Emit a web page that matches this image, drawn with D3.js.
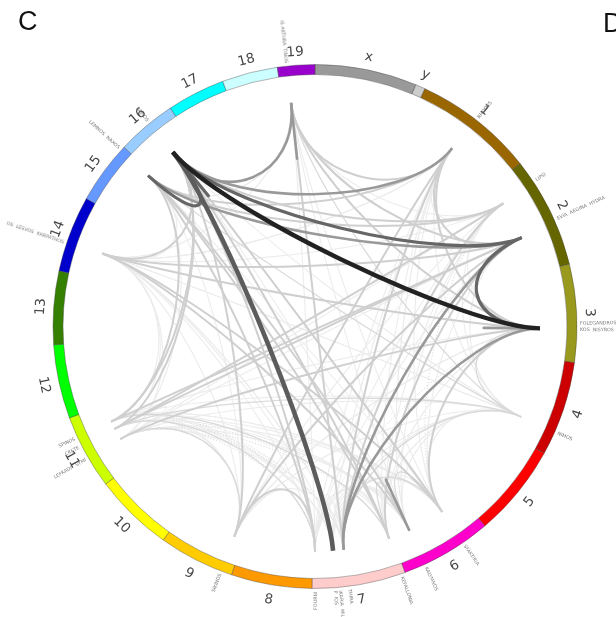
<!DOCTYPE html>
<html>
<head>
<meta charset="utf-8">
<style>
html, body { margin: 0; padding: 0; background: #fff; }
svg { display: block; }
text { font-family: "DejaVu Sans", sans-serif; }
</style>
<script src="https://cdn.jsdelivr.net/npm/d3@7"></script>
</head>
<body>
<svg id="chart" width="616" height="617"></svg>
<script>
// ---- Chart data ----
const chromNames = ["x", "y", "1", "2", "3", "4", "5", "6", "7", "8", "9", "10",
                    "11", "12", "13", "14", "15", "16", "17", "18", "19"];
const chromLengths = [167, 16, 197, 182, 160, 155, 152, 150, 153, 132, 124, 130,
                      122, 121, 120, 125, 103, 98, 95, 91, 61];
const chromColors = ["#999999", "#cccccc", "#996600", "#666600", "#99991e", "#cc0000",
                     "#ff0000", "#ff00cc", "#ffcccc", "#ff9900", "#ffcc00", "#ffff00",
                     "#ccff00", "#00ff00", "#358000", "#0000cc", "#6699ff", "#99ccff",
                     "#00ffff", "#ccffff", "#9900cc"];

// where the links meet: one letter, chromosome, position on it
const hubKeys = "ABCDEFGHIJKLMNOPQRS".split("");
const hubChroms = ["16", "15", "19", "1", "2", "2", "3", "4", "6", "6", "7", "7", "7", "7", "9", "11", "11", "11", "14"];
const hubPositions = [56, 95, 16, 94, 39, 112, 105, 116, 44, 115, 6, 94, 114, 148, 18, 51, 73, 88, 49];

const labelTexts = ["IS AKTHRA  TINOS", "RHODES", "LIPSI", "EVIA  AEGINA  HYDRA", "FOLEGANDROS", "KOS  NISYROS",
                    "NIMOS", "SFAKTIRIA", "KALYMNOS", "KEFALLONIA", "THIRA", "IKARIA  MIL", "P  IOS", "FOURNI",
                    "SIKINOS", "LEFKADA  SYMI", "CRETE", "SPINOS", "OS  LESVOS  KARPATHOS", "LEMNOS  NAXOS", "SAMOS"];
const labelChroms = ["19", "1", "2", "2", "3", "3", "4", "6", "6", "7", "7", "7", "7", "7", "9", "11", "11", "11", "14", "15", "16"];
const labelPositions = [16, 97, 36, 106, 96, 106, 116, 44, 115, 6, 92, 107, 115, 148, 18, 51, 73, 88, 47, 97, 57];

// links by strength, each a pair of hub letters
const dottedLinks = ["PK", "QK", "RK", "PL", "QL", "RL", "PN", "QN", "RN", "SG", "SH", "GN", "HL", "HK", "EI", "JD", "PJ", "RI"];
const faintLinks = ["HP", "HR", "HS", "HA", "HD", "HE", "HF", "HI", "HJ", "HK", "HM", "HN", "HO",
                    "PQ", "QR", "PS", "QS", "RS", "QO", "RO", "PM", "QM", "RM", "PJ", "QJ", "RJ", "PI", "QI", "RI",
                    "IK", "IM", "IN", "JL", "JM", "JN", "KL", "KM", "KN", "LN", "ED", "EG", "CE", "CS",
                    "CB", "DS", "EJ", "EO", "DI", "DJ", "DK", "CI", "CJ", "BC", "SO", "SN", "SL", "GO", "FK", "EK",
                    "SB", "SD", "SE", "PB", "PF", "RG", "PE", "OB", "OG", "OL", "ND", "NE", "NF", "MD", "IB", "JA", "IF", "KG", "MS", "LS", "CN"];
const paleLinks = ["HG", "HL", "HQ", "HB", "HC", "IL", "IJ", "JK", "PO", "QN", "RK"];
const lightLinks = ["SA", "SF", "SG", "RA", "QA", "RB", "PG", "QF", "RF", "QE",
                    "OA", "OF", "OD", "ON", "NA", "NB", "LD", "LE", "KA", "KB", "IA",
                    "JB", "CL", "CD", "CF", "CG", "DF", "DB", "DG", "EA", "EB", "IG", "KF", "IS", "JS"];
const midLinks = ["AC", "AD", "BF", "GL", "FL", "GG", "CC", "JJ"];
const darkLinks = ["AF", "AB", "FG", "AA"];
const heavyLinks = ["AM"];
const blackLinks = ["AG"];

// ---- Geometry ----
const cx = 315, cy = 326.5;
const ringInner = 252, ringOuter = 262;
const hubRadius = 225, controlRadius = 150;
const chromLabelRadius = 276, smallLabelRadius = 265;

const total = d3.sum(chromLengths);
const angle = d3.scaleLinear().domain([0, total]).range([0, 2 * Math.PI]);

// running start of each chromosome
const starts = {};
chromNames.reduce((sum, n, i) => { starts[n] = sum; return sum + chromLengths[i]; }, 0);

const svg = d3.select("#chart");
const g = svg.append("g").attr("transform", `translate(${cx},${cy})`);

// ---- Links ----
const hubs = {};
hubKeys.forEach((k, i) => { hubs[k] = angle(starts[hubChroms[i]] + hubPositions[i]); });

function linkPath(pair) {
    const a0 = hubs[pair[0]], a1 = hubs[pair[1]];
    const p0 = d3.pointRadial(a0, hubRadius), c0 = d3.pointRadial(a0, controlRadius);
    const p1 = d3.pointRadial(a1, hubRadius), c1 = d3.pointRadial(a1, controlRadius);
    const path = d3.path();
    path.moveTo(p0[0], p0[1]);
    path.bezierCurveTo(c0[0], c0[1], c1[0], c1[1], p1[0], p1[1]);
    return path.toString();
}

const linkStyles = [
    {links: dottedLinks, stroke: "#bbb", width: 0.6, dash: "1 2"},
    {links: faintLinks, stroke: "#ececec", width: 1.1},
    {links: paleLinks, stroke: "#d8d8d8", width: 1.2},
    {links: lightLinks, stroke: "#cfcfcf", width: 2},
    {links: midLinks, stroke: "#999", width: 2.6},
    {links: darkLinks, stroke: "#666", width: 3.2},
    {links: heavyLinks, stroke: "#5c5c5c", width: 4.6},
    {links: blackLinks, stroke: "#222", width: 4.4}
];
linkStyles.forEach(s => {
    g.append("g")
        .selectAll("path")
        .data(s.links)
        .join("path")
        .attr("d", linkPath)
        .attr("fill", "none")
        .attr("stroke", s.stroke)
        .attr("stroke-width", s.width)
        .attr("stroke-dasharray", s.dash || null);
});

// ---- Ring ----
const arc = d3.arc().innerRadius(ringInner).outerRadius(ringOuter);
g.append("g")
    .selectAll("path")
    .data(chromNames)
    .join("path")
    .attr("d", n => {
        const i = chromNames.indexOf(n);
        return arc({startAngle: angle(starts[n]), endAngle: angle(starts[n] + chromLengths[i])});
    })
    .attr("fill", (n, i) => chromColors[i])
    .attr("stroke", "#444")
    .attr("stroke-width", 0.4);

// ---- Labels ----
const deg = a => a * 180 / Math.PI;

// the slight opacity gives the rotated text plain grey edges
g.append("g")
    .attr("opacity", 0.99)
    .selectAll("text")
    .data(chromNames)
    .join("text")
    .attr("transform", (n, i) => {
        const a = angle(starts[n] + chromLengths[i] / 2);
        const p = d3.pointRadial(a, chromLabelRadius);
        const flip = a > Math.PI / 2 && a < 3 * Math.PI / 2;
        return `translate(${p[0]},${p[1]}) rotate(${flip ? deg(a) - 180 : deg(a)})`;
    })
    .attr("text-anchor", "middle")
    .attr("dy", "0.35em")
    .attr("font-size", 13.5)
    .attr("fill", "#444")
    .text(n => n);

g.append("g")
    .attr("opacity", 0.99)
    .selectAll("text")
    .data(labelTexts)
    .join("text")
    .attr("transform", (t, i) => {
        const a = angle(starts[labelChroms[i]] + labelPositions[i]);
        const p = d3.pointRadial(a, smallLabelRadius);
        const right = a < Math.PI;
        return `translate(${p[0]},${p[1]}) rotate(${right ? deg(a) - 90 : deg(a) + 90})`;
    })
    .attr("text-anchor", (t, i) => angle(starts[labelChroms[i]] + labelPositions[i]) < Math.PI ? "start" : "end")
    .attr("dy", "0.35em")
    .attr("font-size", 4.8)
    .attr("fill", "#777")
    .style("white-space", "pre")
    .text(t => t);

// ---- Panel letters ----
svg.append("text").attr("x", 18).attr("y", 30).attr("font-size", 27)
    .style("font-family", "'Liberation Sans', sans-serif").attr("fill", "#111").text("C");
svg.append("text").attr("x", 603).attr("y", 32).attr("font-size", 27)
    .style("font-family", "'Liberation Sans', sans-serif").attr("fill", "#111").text("D");
</script>
</body>
</html>
